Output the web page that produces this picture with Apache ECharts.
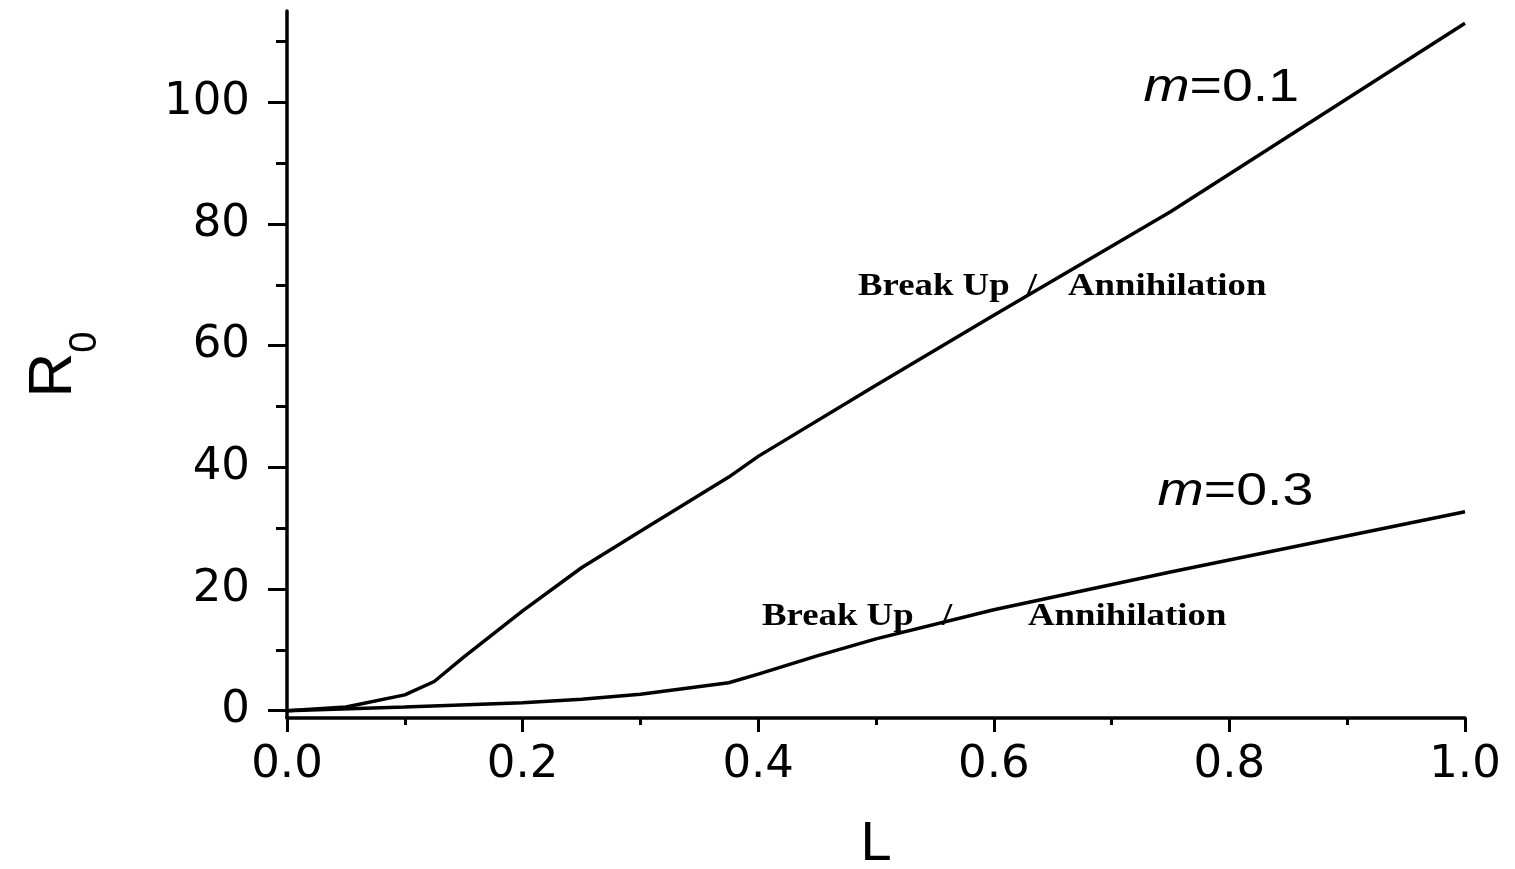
<!DOCTYPE html>
<html>
<head>
<meta charset="utf-8">
<script src="https://cdn.jsdelivr.net/npm/echarts@6/dist/echarts.min.js"></script>
<style>html,body{margin:0;padding:0;background:#fff;}#chart{width:1515px;height:869px;}</style>
</head>
<body>
<div id="chart"></div>
<script>
// Data
const m01L = [0, 0.05, 0.1, 0.125, 0.15, 0.2, 0.25, 0.3, 0.375, 0.4, 0.5, 0.6, 0.75, 1.0];
const m01R = [0, 0.6, 2.6, 4.8, 8.8, 16.4, 23.5, 29.5, 38.4, 41.8, 53.5, 65.0, 82.0, 113.0];
const m03L = [0, 0.1, 0.2, 0.25, 0.3, 0.375, 0.4, 0.45, 0.5, 0.6, 0.75, 1.0];
const m03R = [0, 0.6, 1.3, 1.9, 2.7, 4.6, 6.0, 9.0, 11.8, 16.6, 22.8, 32.7];
const yMajorTicks = [0, 20, 40, 60, 80, 100];
const yMinorTicks = [10, 30, 50, 70, 90, 110];
const xTicks = [0, 0.2, 0.4, 0.6, 0.8, 1.0];

// annotation texts with anchor positions in data coordinates (left edge, vertical middle)
const curveLabels = [
  {text: '{i|m}=0.1', L: 0.727, R: 102.3},
  {text: '{i|m}=0.3', L: 0.739, R: 36.0}
];
const regionLabels = [
  {text: 'Break Up', L: 0.4847, R: 69.6},
  {text: '/', L: 0.628, R: 69.6},
  {text: 'Annihilation', L: 0.6630, R: 69.6},
  {text: 'Break Up', L: 0.4032, R: 15.4},
  {text: '/', L: 0.556, R: 15.4},
  {text: 'Annihilation', L: 0.6290, R: 15.4}
];

const zip = (a, b) => a.map((v, i) => [v, b[i]]);
const chart = echarts.init(document.getElementById('chart'), null, {renderer: 'canvas'});
const tickFont = {fontFamily: 'DejaVu Sans', fontSize: 45, color: '#000'};

chart.setOption({
  animation: false,
  backgroundColor: '#fff',
  grid: {left: 287, right: 50, top: 11, bottom: 151, containLabel: false, outerBoundsMode: 'none'},
  xAxis: {
    type: 'value', min: 0, max: 1, interval: 0.2,
    name: 'L', nameLocation: 'middle', nameGap: 99,
    nameTextStyle: {fontFamily: 'Liberation Sans', fontSize: 56, color: '#000'},
    axisLine: {show: true, onZero: false, lineStyle: {color: '#000', width: 3.5}},
    axisTick: {show: true, inside: false, length: 14, lineStyle: {color: '#000', width: 3}},
    minorTick: {show: true, splitNumber: 2, length: 7, lineStyle: {color: '#000', width: 3}},
    axisLabel: Object.assign({margin: 25, formatter: v => v.toFixed(1), customValues: xTicks}, tickFont),
    splitLine: {show: false}, minorSplitLine: {show: false}
  },
  yAxis: [{
    type: 'value', min: -1.2, max: 115,
    name: '{r|R}{s|0}', nameLocation: 'middle', nameGap: 200, nameRotate: 90,
    nameTextStyle: {
      color: '#000',
      rich: {
        r: {fontFamily: 'Liberation Sans', fontSize: 62, lineHeight: 64, verticalAlign: 'top', color: '#000'},
        s: {fontFamily: 'Liberation Sans', fontSize: 38, lineHeight: 20, verticalAlign: 'top', padding: [44, 0, 0, 0], color: '#000'}
      }
    },
    axisLine: {show: true, onZero: false, lineStyle: {color: '#000', width: 3.5}},
    axisTick: {show: true, inside: false, length: 19, customValues: yMajorTicks, lineStyle: {color: '#000', width: 3}},
    axisLabel: Object.assign({margin: 37, customValues: yMajorTicks}, tickFont),
    splitLine: {show: false}
  }, {
    type: 'value', min: -1.2, max: 115, position: 'left',
    axisLine: {show: false},
    axisTick: {show: true, inside: false, length: 11, customValues: yMinorTicks, lineStyle: {color: '#000', width: 3}},
    axisLabel: {show: false},
    splitLine: {show: false}
  }],
  series: [
    {type: 'line', name: 'm=0.1', data: zip(m01L, m01R), showSymbol: false, symbol: 'none',
     lineStyle: {color: '#000', width: 3.5}, itemStyle: {color: '#000'}},
    {type: 'line', name: 'm=0.3', data: zip(m03L, m03R), showSymbol: false, symbol: 'none',
     lineStyle: {color: '#000', width: 3.5}, itemStyle: {color: '#000'}}
  ]
});

const px = (L, R) => chart.convertToPixel({gridIndex: 0}, [L, R]);
const graphics = [];
curveLabels.forEach(a => {
  const p = px(a.L, a.R);
  graphics.push({
    type: 'text', x: p[0], y: p[1], scaleX: 1.18, silent: true,
    style: {
      text: a.text, x: 0, y: 0, verticalAlign: 'middle', align: 'left',
      fontFamily: 'Liberation Sans', fontSize: 47, fill: '#000',
      rich: {i: {fontStyle: 'italic', fontFamily: 'Liberation Sans', fontSize: 47, fill: '#000'}}
    }
  });
});
regionLabels.forEach(a => {
  const p = px(a.L, a.R);
  graphics.push({
    type: 'text', x: p[0], y: p[1], scaleX: 1.15, silent: true,
    style: {
      text: a.text, x: 0, y: 0, verticalAlign: 'middle', align: 'left',
      font: 'bold 32px "Liberation Serif"', fill: '#000'
    }
  });
});
chart.setOption({graphic: graphics});
</script>
</body>
</html>
